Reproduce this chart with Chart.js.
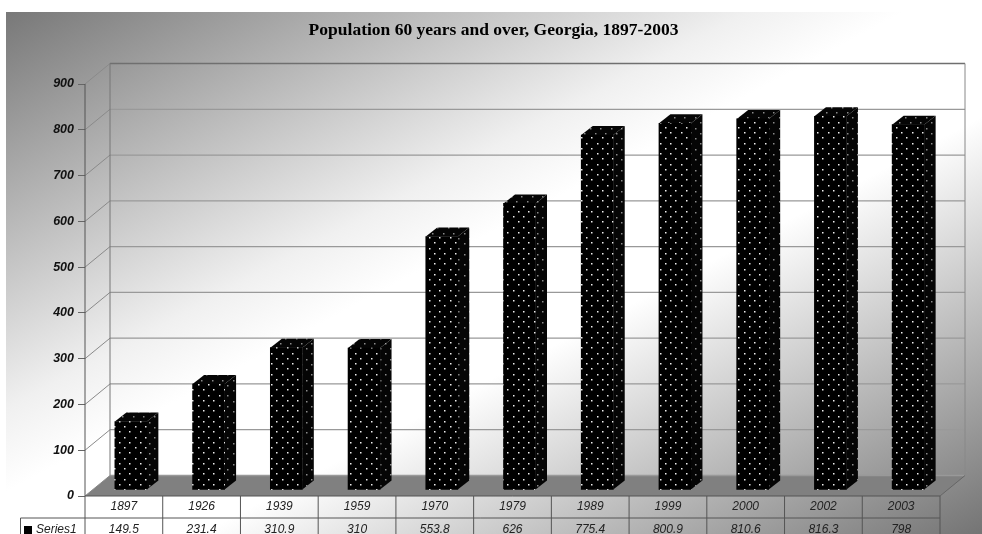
<!DOCTYPE html>
<html>
<head>
<meta charset="utf-8">
<title>Population 60 years and over, Georgia</title>
<script src="https://cdn.jsdelivr.net/npm/chart.js@4"></script>
<style>
  html, body { margin: 0; padding: 0; background: #fff; }
  canvas { display: block; }
</style>
</head>
<body>
<canvas id="grafico" width="982" height="534"></canvas>
<script>
const anos = ["1897", "1926", "1939", "1959", "1970", "1979", "1989", "1999", "2000", "2002", "2003"];
const valores = [149.5, 231.4, 310.9, 310, 553.8, 626, 775.4, 800.9, 810.6, 816.3, 798];
const ticksY = [0, 100, 200, 300, 400, 500, 600, 700, 800, 900];
const nomeSerie = "Series1";
const titulo = "Population 60 years and over, Georgia, 1897-2003";

// depth of the back wall and of each bar
const paredeX = 25;
const paredeY = -20.5;
const barraX = 7;
const barraY = -6;
const ladoX = 11.5;
const ladoY = -9;

function criarPadrao(corFundo, corPonto) {
  const c = document.createElement("canvas");
  c.width = 21;
  c.height = 21;
  const g = c.getContext("2d");
  g.fillStyle = corFundo;
  g.fillRect(0, 0, 21, 21);
  g.fillStyle = corPonto;
  [[2, 2], [12, 2], [7, 7], [17, 7], [2, 12], [12, 12], [7, 17], [17, 17]].forEach(function (p) {
    g.fillRect(p[0], p[1], 1.5, 1.5);
  });
  return document.getElementById("grafico").getContext("2d").createPattern(c, "repeat");
}

const padraoFrente = criarPadrao("#000", "#eee");
const padraoLado = criarPadrao("#050505", "#8a8a8a");

function poligono(ctx, pontos, fill) {
  ctx.beginPath();
  pontos.forEach(function (p, i) {
    if (i == 0) ctx.moveTo(p[0], p[1]);
    else ctx.lineTo(p[0], p[1]);
  });
  ctx.closePath();
  ctx.fillStyle = fill;
  ctx.fill();
}

function linha(ctx, x1, y1, x2, y2, cor, largura) {
  ctx.beginPath();
  ctx.moveTo(x1, y1);
  ctx.lineTo(x2, y2);
  ctx.strokeStyle = cor;
  ctx.lineWidth = largura || 1;
  ctx.stroke();
}

const fundo = {
  id: "fundo",
  beforeDraw(chart) {
    const ctx = chart.ctx;
    const w = chart.width;
    const h = chart.height;
    // gradient with the white band on the corner to corner diagonal
    const cx = (6 + w) / 2;
    const cy = (12 + h) / 2;
    const nx = (h - 12);
    const ny = (w - 6);
    const n = Math.sqrt(nx * nx + ny * ny);
    const meio = ((w - 6) / 2 * nx + (h - 12) / 2 * ny) / n;
    const grad = ctx.createLinearGradient(cx - meio * nx / n, cy - meio * ny / n, cx + meio * nx / n, cy + meio * ny / n);
    grad.addColorStop(0, "#787878");
    grad.addColorStop(0.38, "#f0f0f0");
    grad.addColorStop(0.46, "#ffffff");
    grad.addColorStop(0.6, "#ffffff");
    grad.addColorStop(1, "#747474");
    ctx.fillStyle = grad;
    ctx.fillRect(6, 12, w - 6, h - 12);
  },
  beforeDatasetsDraw(chart) {
    const ctx = chart.ctx;
    const a = chart.chartArea;
    const y = chart.scales.y;
    const x = chart.scales.x;
    const zero = y.getPixelForValue(0);

    // floor
    poligono(ctx, [[a.left, zero], [a.right, zero], [a.right + paredeX, zero + paredeY], [a.left + paredeX, zero + paredeY]], "#808080");

    // wall grid
    ticksY.forEach(function (v) {
      const py = y.getPixelForValue(v);
      const cor = v == 900 ? "#6f6f6f" : "#999";
      linha(ctx, a.left, py, a.left + paredeX, py + paredeY, "#8a8a8a");
      linha(ctx, a.left + paredeX, py + paredeY, a.right + paredeX, py + paredeY, cor, 1.3);
    });
    linha(ctx, a.left, a.top, a.left, zero, "#555");
    linha(ctx, a.left + paredeX, a.top + paredeY, a.left + paredeX, zero + paredeY, "#777");
    linha(ctx, a.right + paredeX, a.top + paredeY, a.right + paredeX, zero + paredeY, "#888");
    linha(ctx, a.right, zero, a.right + paredeX, zero + paredeY, "#666");

    // data table
    const passo = x.width / anos.length;
    const linhaTabela = zero + 22;
    linha(ctx, a.left, zero, a.right, zero, "#555");
    linha(ctx, 20.5, linhaTabela, a.right, linhaTabela, "#555");
    linha(ctx, 20.5, linhaTabela, 20.5, chart.height, "#555");
    for (let i = 0; i <= anos.length; i++) {
      linha(ctx, a.left + i * passo, zero, a.left + i * passo, chart.height, "#555");
    }
    ctx.fillStyle = "#000";
    ctx.fillRect(24, linhaTabela + 8, 8, 8);
    ctx.fillStyle = "#222";
    ctx.font = "italic 12px 'Liberation Sans'";
    ctx.textAlign = "left";
    ctx.textBaseline = "middle";
    ctx.fillText(nomeSerie, 36, linhaTabela + 12);

    // side and top faces of the bars
    chart.getDatasetMeta(0).data.forEach(function (b) {
      const esq = b.x - b.width / 2 + barraX;
      const dir = b.x + b.width / 2 + barraX;
      const topo = b.y + barraY;
      const base = b.base + barraY;
      poligono(ctx, [[dir, topo], [dir + ladoX, topo + ladoY], [dir + ladoX, base + ladoY], [dir, base]], padraoLado);
      poligono(ctx, [[esq, topo], [esq + ladoX, topo + ladoY], [dir + ladoX, topo + ladoY], [dir, topo]], padraoLado);
    });

    // front faces are the library's own bars, moved inside the box
    ctx.save();
    ctx.translate(barraX, barraY);
  },
  afterDatasetsDraw(chart) {
    chart.ctx.restore();
  },
};

new Chart(document.getElementById("grafico"), {
  type: "bar",
  data: {
    labels: anos,
    datasets: [
      {
        label: nomeSerie,
        data: valores,
        backgroundColor: padraoFrente,
        barThickness: 32,
      },
    ],
  },
  plugins: [fundo],
  options: {
    responsive: false,
    animation: false,
    layout: {
      padding: { left: 47, right: 42, top: 0, bottom: 0 },
    },
    plugins: {
      legend: { display: false },
      tooltip: { enabled: false },
      title: {
        display: true,
        text: titulo,
        color: "#000",
        font: { family: "Liberation Serif", size: 17.5, weight: "bold" },
        padding: { top: 20, bottom: 43 },
      },
    },
    scales: {
      x: {
        afterFit: function (s) { s.height = 38; },
        grid: { display: false },
        border: { display: false },
        ticks: {
          autoSkip: false,
          maxRotation: 0,
          padding: -9,
          color: "#222",
          font: { family: "Liberation Sans", size: 12, style: "italic", lineHeight: "23px" },
          callback: function (v, i) {
            return [anos[i], String(valores[i])];
          },
        },
      },
      y: {
        min: 0,
        max: 900,
        afterFit: function (s) { s.width = 38; },
        afterBuildTicks: function (s) {
          s.ticks = ticksY.map(function (v) { return { value: v }; });
        },
        grid: { drawOnChartArea: false, drawTicks: true, tickLength: 7, color: "#666" },
        border: { display: false },
        ticks: {
          padding: 4,
          color: "#111",
          font: { family: "Liberation Sans", size: 12.5, style: "italic", weight: "bold" },
        },
      },
    },
  },
});
</script>
</body>
</html>
